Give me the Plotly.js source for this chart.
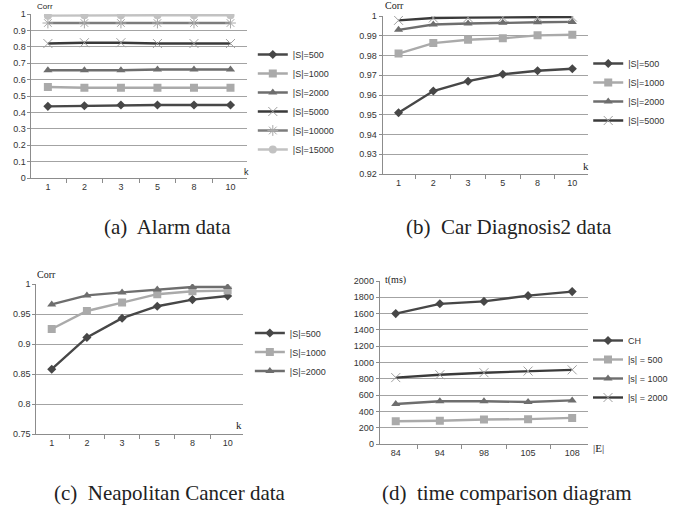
<!DOCTYPE html>
<html>
<head>
<meta charset="utf-8">
<script src="https://cdn.plot.ly/plotly-3.0.1.min.js"></script>
<style>html,body{margin:0;padding:0;background:#fff;}#chart{width:673px;height:510px;}</style>
</head>
<body>
<div id="chart"></div>
<script>
// ---- Data ----
const kCats = ["1", "2", "3", "5", "8", "10"];
const eCats = ["84", "94", "98", "105", "108"];

// (a) Alarm data
const alarmNames = ["|S|=500", "|S|=1000", "|S|=2000", "|S|=5000", "|S|=10000", "|S|=15000"];
const alarm500   = [0.437, 0.441, 0.445, 0.445, 0.445, 0.445];
const alarm1000  = [0.555, 0.550, 0.550, 0.550, 0.550, 0.550];
const alarm2000  = [0.657, 0.657, 0.657, 0.662, 0.662, 0.662];
const alarm5000  = [0.820, 0.825, 0.825, 0.820, 0.820, 0.820];
const alarm10000 = [0.945, 0.945, 0.945, 0.945, 0.945, 0.945];
const alarm15000 = [0.990, 0.992, 0.992, 0.992, 0.992, 0.992];

// (b) Car Diagnosis2 data
const carNames = ["|S|=500", "|S|=1000", "|S|=2000", "|S|=5000"];
const car500  = [0.951, 0.962, 0.967, 0.9705, 0.9723, 0.9733];
const car1000 = [0.981, 0.9863, 0.988, 0.9887, 0.9902, 0.9905];
const car2000 = [0.993, 0.9957, 0.9962, 0.9966, 0.9968, 0.997];
const car5000 = [0.9978, 0.999, 0.9992, 0.9993, 0.9994, 0.9995];

// (c) Neapolitan Cancer data
const canNames = ["|S|=500", "|S|=1000", "|S|=2000"];
const can500  = [0.858, 0.911, 0.943, 0.963, 0.974, 0.980];
const can1000 = [0.925, 0.955, 0.969, 0.983, 0.988, 0.989];
const can2000 = [0.966, 0.981, 0.986, 0.991, 0.995, 0.995];

// (d) time comparison diagram
const timeNames = ["CH", "|s| = 500", "|s| = 1000", "|s| = 2000"];
const timeCH   = [1600, 1720, 1750, 1820, 1870];
const time500  = [280, 285, 300, 305, 320];
const time1000 = [490, 525, 525, 515, 535];
const time2000 = [815, 850, 875, 895, 910];

const captions = ["(a)  Alarm data", "(b)  Car Diagnosis2 data", "(c)  Neapolitan Cancer data", "(d)  time comparison diagram"];

// ---- Styles ----
const styles = [
  {color: "#474747", symbol: "diamond", size: 7, mcolor: "#474747"},
  {color: "#aaaaaa", symbol: "square", size: 8, mcolor: "#aaaaaa"},
  {color: "#6e6e6e", symbol: "triangle-up", size: 8, mcolor: "#6e6e6e"},
  {color: "#3a3a3a", symbol: "x-thin-open", size: 9, mcolor: "#a0a0a0"},
  {color: "#7c7c7c", symbol: "asterisk-open", size: 9, mcolor: "#a8a8a8"},
  {color: "#c2c2c2", symbol: "circle", size: 8, mcolor: "#c2c2c2"}
];

function mk(x, y, name, si, xa, ya, leg) {
  const s = styles[si];
  return {
    type: "scatter", mode: "lines+markers", x: x, y: y, name: name,
    xaxis: xa, yaxis: ya, legend: leg,
    line: {color: s.color, width: 2.4},
    marker: {symbol: s.symbol, size: s.size, color: s.mcolor,
             line: {color: s.mcolor, width: (s.symbol.indexOf("open") >= 0 ? 1 : 0)}}
  };
}

const traces = [];
[alarm500, alarm1000, alarm2000, alarm5000, alarm10000, alarm15000].forEach((v, i) =>
  traces.push(mk(kCats, v, alarmNames[i], i, "x", "y", "legend")));
[car500, car1000, car2000, car5000].forEach((v, i) =>
  traces.push(mk(kCats, v, carNames[i], i, "x2", "y2", "legend2")));
[can500, can1000, can2000].forEach((v, i) =>
  traces.push(mk(kCats, v, canNames[i], i, "x3", "y3", "legend3")));
[timeCH, time500, time1000, time2000].forEach((v, i) =>
  traces.push(mk(eCats, v, timeNames[i], i, "x4", "y4", "legend4")));

const W = 673, H = 510;
const px = v => v / W;
const py = v => 1 - v / H;

const tickFont = {family: "Liberation Sans, Arial, sans-serif", size: 9, color: "#333"};
function xax(l, r, anchor) {
  return {domain: [px(l), px(r)], anchor: anchor, type: "category",
    showline: true, linecolor: "#8c8c8c", linewidth: 1,
    ticks: "outside", ticklen: 4, tickcolor: "#8c8c8c", tickson: "boundaries",
    showgrid: false, zeroline: false, tickfont: tickFont, fixedrange: true};
}
function yax(t, b, anchor, range, dtick) {
  return {domain: [py(b), py(t)], anchor: anchor, range: range, dtick: dtick, tick0: range[0],
    showline: true, linecolor: "#8c8c8c", linewidth: 1,
    ticks: "outside", ticklen: 3, tickcolor: "#8c8c8c",
    showgrid: true, gridcolor: "#a3a3a3", gridwidth: 1, zeroline: false,
    tickfont: tickFont, fixedrange: true};
}
function leg(x, yc) {
  return {x: px(x), y: py(yc), xanchor: "left", yanchor: "middle",
    font: {family: "Liberation Sans, Arial, sans-serif", size: 9, color: "#333"},
    bgcolor: "rgba(0,0,0,0)", borderwidth: 0, tracegroupgap: 0};
}
const serif = "Liberation Serif, Times New Roman, serif";
const sans = "Liberation Sans, Arial, sans-serif";
function ann(text, x, y, fam, size, xanchor) {
  return {text: text, xref: "paper", yref: "paper", x: px(x), y: py(y),
    xanchor: xanchor || "left", yanchor: "middle", showarrow: false,
    font: {family: fam, size: size, color: "#222"}};
}

const layout = {
  width: W, height: H, margin: {l: 0, r: 0, t: 0, b: 0},
  paper_bgcolor: "#fff", plot_bgcolor: "#fff",
  xaxis: xax(32, 251, "y"),  yaxis: yax(14, 178, "x", [0, 1], 0.1),
  xaxis2: xax(389, 598, "y2"), yaxis2: yax(16, 174, "x2", [0.92, 1], 0.01),
  xaxis3: xax(37, 247, "y3"), yaxis3: yax(284, 434, "x3", [0.75, 1], 0.05),
  xaxis4: xax(386, 598, "y4"), yaxis4: yax(281, 444, "x4", [0, 2000], 200),
  legend: leg(257, 102),
  legend2: leg(598, 92),
  legend3: leg(254, 352),
  legend4: leg(598, 369),
  annotations: [
    ann("Corr", 36, 7, sans, 8),
    ann("k", 246, 172, sans, 9),
    ann("Corr", 389, 6, serif, 10),
    ann("k", 591, 166, serif, 11),
    ann("Corr", 36, 274, serif, 10),
    ann("k", 238, 425, serif, 11),
    ann("t(ms)", 389, 280, serif, 10),
    ann("|E|", 601, 448, serif, 11),
    ann(captions[0], 170, 227, serif, 21, "center"),
    ann(captions[1], 517, 227, serif, 21, "center"),
    ann(captions[2], 173, 493, serif, 21, "center"),
    ann(captions[3], 515, 493, serif, 21, "center")
  ],
  showlegend: true
};

Plotly.newPlot("chart", traces, layout, {displayModeBar: false, staticPlot: true});
</script>
</body>
</html>
